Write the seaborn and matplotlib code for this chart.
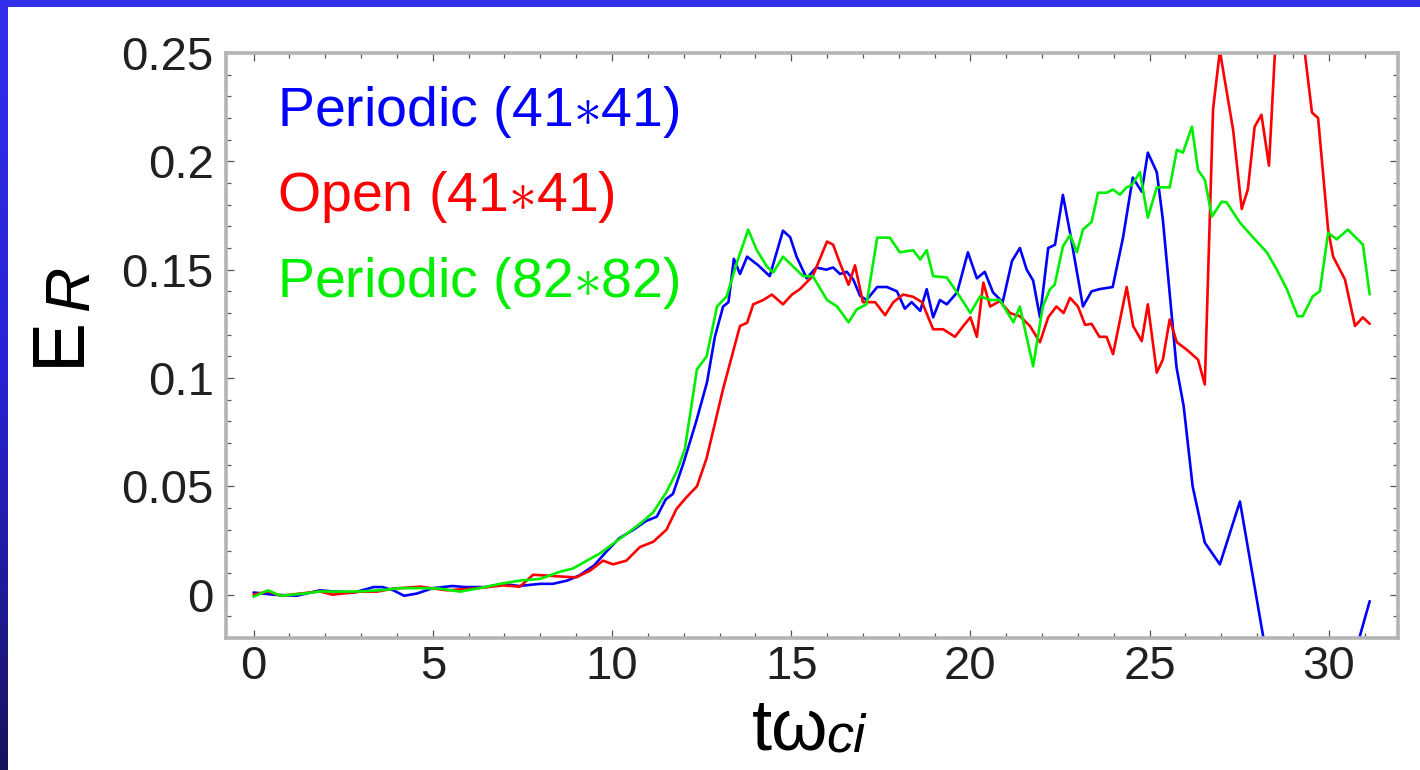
import numpy as np
import matplotlib
matplotlib.use("Agg")
import matplotlib.pyplot as plt
import seaborn as sns
from matplotlib.ticker import MultipleLocator, FixedLocator, FixedFormatter

# ---------------- data ----------------
t_per41 = [0.0, 0.54, 1.2, 1.85, 2.2, 2.8, 3.35, 3.6, 3.9, 4.2, 4.55, 5.0, 5.55, 5.9, 6.5, 6.95,
           7.4, 8.0, 8.35, 8.75, 9.1, 9.5, 9.85, 10.2, 10.6, 10.95, 11.25, 11.5, 11.7, 12.0,
           12.35, 12.65, 12.87, 13.1, 13.25, 13.4, 13.57, 13.77, 14.08, 14.4, 14.77, 14.97,
           15.15, 15.43, 15.7, 15.98, 16.17, 16.36, 16.55, 16.73, 16.92, 17.1, 17.4, 17.67,
           17.95, 18.17, 18.36, 18.6, 18.78, 18.96, 19.15, 19.34, 19.63, 19.93, 20.18, 20.4,
           20.63, 20.9, 21.16, 21.38, 21.57, 21.75, 21.94, 22.17, 22.36, 22.58, 22.78, 23.14,
           23.38, 23.6, 23.97, 24.26, 24.53, 24.78, 24.95, 25.2, 25.37, 25.75, 25.95, 26.2,
           26.54, 26.96, 27.52, 28.8, 30.0, 31.14]
e_per41 = [0.001, 0.0, -0.0005, 0.002, 0.0015, 0.001, 0.0035, 0.0035, 0.002, -0.0005, 0.0005,
           0.003, 0.004, 0.0035, 0.0035, 0.005, 0.004, 0.005, 0.005, 0.0065, 0.009, 0.0135,
           0.020, 0.026, 0.030, 0.034, 0.036, 0.044, 0.0465, 0.061, 0.080, 0.098, 0.119, 0.133,
           0.135, 0.155, 0.148, 0.156, 0.152, 0.147, 0.168, 0.165, 0.156, 0.146, 0.151, 0.150,
           0.151, 0.148, 0.149, 0.1455, 0.138, 0.136, 0.142, 0.142, 0.140, 0.132, 0.135, 0.131,
           0.141, 0.128, 0.136, 0.134, 0.1395, 0.158, 0.146, 0.149, 0.1395, 0.135, 0.154, 0.160,
           0.150, 0.145, 0.128, 0.160, 0.1615, 0.1845, 0.167, 0.133, 0.140, 0.141, 0.142, 0.165,
           0.1925, 0.186, 0.204, 0.195, 0.173, 0.105, 0.087, 0.050, 0.024, 0.014, 0.043, -0.080,
           -0.070, -0.003]

t_open41 = [0.0, 0.4, 0.75, 1.3, 1.85, 2.2, 2.98, 3.45, 3.9, 4.65, 5.4, 6.13, 6.96, 7.43, 7.8,
            8.27, 8.74, 9.0, 9.38, 9.75, 10.03, 10.4, 10.78, 11.15, 11.52, 11.8, 12.08, 12.37,
            12.64, 13.1, 13.57, 13.77, 13.94, 14.22, 14.46, 14.77, 15.02, 15.24, 15.6, 16.0,
            16.17, 16.36, 16.6, 16.78, 17.0, 17.34, 17.62, 17.85, 18.12, 18.4, 18.65, 18.96,
            19.24, 19.57, 19.8, 20.0, 20.18, 20.36, 20.55, 20.82, 21.1, 21.38, 21.66, 21.94,
            22.17, 22.4, 22.6, 22.78, 23.0, 23.2, 23.38, 23.6, 23.8, 23.98, 24.36, 24.54, 24.78,
            24.95, 25.2, 25.37, 25.56, 25.76, 26.04, 26.35, 26.54, 26.77, 26.96, 27.33, 27.57,
            27.74, 27.93, 28.12, 28.33, 28.75, 29.53, 29.7, 29.98, 30.12, 30.45, 30.73, 30.95,
            31.14]
e_open41 = [0.0, 0.0015, -0.0005, 0.0005, 0.0015, 0.0, 0.0014, 0.0014, 0.0028, 0.0037, 0.002,
            0.0028, 0.0043, 0.0037, 0.0092, 0.0087, 0.0082, 0.008, 0.011, 0.0157, 0.014, 0.0157,
            0.022, 0.0244, 0.030, 0.0396, 0.045, 0.050, 0.063, 0.095, 0.124, 0.1255, 0.134,
            0.136, 0.1385, 0.134, 0.1385, 0.141, 0.147, 0.163, 0.1615, 0.153, 0.143, 0.152,
            0.135, 0.135, 0.129, 0.135, 0.1385, 0.1375, 0.135, 0.1225, 0.1225, 0.119, 0.124,
            0.128, 0.119, 0.144, 0.133, 0.1355, 0.130, 0.1285, 0.124, 0.1165, 0.128, 0.133,
            0.130, 0.137, 0.133, 0.1245, 0.125, 0.119, 0.119, 0.111, 0.142, 0.124, 0.117, 0.134,
            0.1025, 0.1085, 0.127, 0.1165, 0.113, 0.1085, 0.097, 0.224, 0.251, 0.2145, 0.178,
            0.187, 0.216, 0.2215, 0.198, 0.330, 0.2225, 0.220, 0.1685, 0.156, 0.1455, 0.124,
            0.128, 0.125]

t_per82 = [0.0, 0.4, 0.75, 1.4, 1.85, 2.3, 2.98, 3.5, 4.1, 4.65, 5.2, 5.76, 6.3, 6.88, 7.43,
           8.0, 8.55, 8.9, 9.3, 9.66, 10.03, 10.4, 10.78, 11.15, 11.52, 11.8, 12.03, 12.37,
           12.64, 12.93, 13.2, 13.48, 13.8, 14.04, 14.32, 14.5, 14.77, 15.05, 15.33, 15.6, 16.0,
           16.28, 16.6, 16.83, 17.1, 17.4, 17.75, 18.03, 18.4, 18.6, 18.78, 18.96, 19.34, 19.7,
           20.0, 20.27, 20.55, 20.82, 21.2, 21.38, 21.75, 22.02, 22.22, 22.35, 22.58, 22.78,
           22.97, 23.14, 23.38, 23.56, 23.8, 23.98, 24.17, 24.36, 24.5, 24.73, 24.95, 25.2,
           25.56, 25.76, 25.93, 26.18, 26.35, 26.54, 26.74, 27.01, 27.15, 27.52, 27.88, 28.27,
           28.55, 28.83, 29.13, 29.27, 29.55, 29.75, 29.98, 30.22, 30.53, 30.95, 31.14]
e_per82 = [-0.001, 0.002, -0.0005, 0.0005, 0.0015, 0.0014, 0.0015, 0.002, 0.003, 0.003, 0.0028,
           0.0014, 0.003, 0.005, 0.0065, 0.0073, 0.0106, 0.012, 0.0157, 0.019, 0.0235, 0.028,
           0.0327, 0.038, 0.0474, 0.0566, 0.067, 0.104, 0.110, 0.133, 0.1377, 0.153, 0.1685,
           0.159, 0.1515, 0.1487, 0.156, 0.1515, 0.147, 0.147, 0.136, 0.133, 0.1257, 0.1317,
           0.134, 0.1648, 0.1648, 0.158, 0.159, 0.1547, 0.159, 0.147, 0.1464, 0.1377, 0.130,
           0.1377, 0.136, 0.136, 0.1257, 0.133, 0.1054, 0.133, 0.141, 0.143, 0.1607, 0.166,
           0.158, 0.1685, 0.172, 0.1855, 0.1855, 0.187, 0.1846, 0.188, 0.189, 0.195, 0.174,
           0.188, 0.188, 0.2053, 0.204, 0.216, 0.196, 0.1915, 0.1745, 0.1814, 0.181, 0.1717,
           0.165, 0.158, 0.150, 0.141, 0.1285, 0.1285, 0.1377, 0.140, 0.167, 0.164, 0.1685,
           0.1616, 0.1386]

series_labels = [r"Periodic (41$\ast$41)", r"Open (41$\ast$41)", r"Periodic (82$\ast$82)"]
series_colors = ["#0000ff", "#ff0000", "#00ee00"]
x_ticks = [0, 5, 10, 15, 20, 25, 30]
y_ticks = [0, 0.05, 0.1, 0.15, 0.2, 0.25]
y_tick_labels = ["0", "0.05", "0.1", "0.15", "0.2", "0.25"]

# ---------------- style ----------------
sns.set_theme(style="white")
plt.rcParams["font.family"] = ["Liberation Sans", "DejaVu Sans"]
plt.rcParams["mathtext.fontset"] = "custom"
plt.rcParams["mathtext.rm"] = "Liberation Sans"
plt.rcParams["mathtext.it"] = "Liberation Sans:italic"
plt.rcParams["mathtext.bf"] = "Liberation Sans:bold"

W, H = 1420, 770
fig = plt.figure(figsize=(W / 100, H / 100), dpi=100, facecolor="white")

def px(x, y):
    return x / W, 1 - y / H

ax = fig.add_axes([226 / W, 1 - 638 / H, (1398 - 226) / W, (638 - 53) / H])
ax.set_facecolor("white")

for t, e, lab, col in zip([t_per41, t_open41, t_per82], [e_per41, e_open41, e_per82],
                          series_labels, series_colors):
    sns.lineplot(x=t, y=e, ax=ax, color=col, linewidth=1.9, label=lab,
                 sort=False, estimator=None)

ax.set_xlim(-0.77, 31.93)
ax.set_ylim(-0.02, 0.25)
ax.set_xlabel("")
ax.set_ylabel("")

ax.xaxis.set_major_locator(FixedLocator(x_ticks))
ax.xaxis.set_minor_locator(MultipleLocator(1))
ax.yaxis.set_major_locator(FixedLocator(y_ticks))
ax.yaxis.set_major_formatter(FixedFormatter(y_tick_labels))
ax.yaxis.set_minor_locator(MultipleLocator(0.01))

tick_col = "#231f20"
ax.tick_params(which="both", direction="in", top=True, right=True, bottom=True, left=True,
               color="#555555", width=0.9)
ax.tick_params(which="major", length=6)
ax.tick_params(which="minor", length=3.5)
ax.tick_params(axis="y", which="major", labelsize=34, labelcolor=tick_col, pad=9)
ax.tick_params(axis="x", which="major", labelsize=34, labelcolor=tick_col, pad=5)

for s in ax.spines.values():
    s.set_color("#b4b4b4")
    s.set_linewidth(2.6)

leg = ax.legend(loc="upper left", bbox_to_anchor=((277 - 226) / 1172, 1 - (84 - 53) / 585),
                frameon=False, handlelength=0, handletextpad=0, borderpad=0,
                borderaxespad=0, labelspacing=0.53, fontsize=40, labelcolor="linecolor")
for h in leg.legend_handles:
    h.set_visible(False)

# axis labels
fig.text(*px(79, 366), "E", fontsize=54, rotation=90, rotation_mode="anchor",
         ha="left", va="baseline", color="black")
fig.text(*px(88, 311), "R", fontsize=45, style="italic", rotation=90, rotation_mode="anchor",
         ha="left", va="baseline", color="black")
fig.text(*px(752, 750), "t\u03c9", fontsize=52, ha="left", va="baseline", color="black")
fig.text(*px(826, 752), "ci", fontsize=39, style="italic", ha="left", va="baseline",
         color="black")

# blue frame: top bar and gradient left bar
top = fig.add_axes([0, 1 - 7 / H, 1, 7 / H])
top.set_axis_off()
top.add_patch(plt.Rectangle((0, 0), 1, 1, color="#3230ea", transform=top.transAxes))

stops_y = np.array([0, 370, 570, 770]) / 770.0
stops_c = np.array([[50, 46, 236], [40, 35, 212], [32, 28, 160], [24, 19, 92]]) / 255.0
yy = np.linspace(0, 1, 256)
grad = np.stack([np.interp(yy, stops_y, stops_c[:, k]) for k in range(3)], axis=1)
left = fig.add_axes([0, 0, 8 / W, 1])
left.set_axis_off()
left.imshow(grad[:, None, :], aspect="auto", extent=[0, 1, 1, 0])
left.set_xlim(0, 1)
left.set_ylim(1, 0)

fig.savefig("out.png", dpi=100, facecolor="white")
